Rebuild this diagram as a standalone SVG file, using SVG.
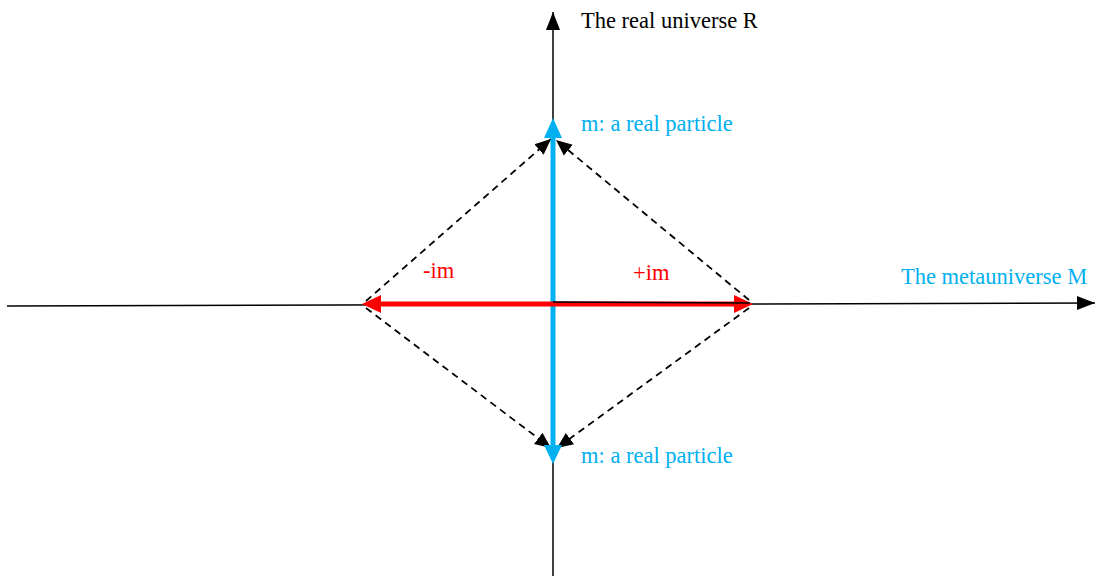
<svg xmlns="http://www.w3.org/2000/svg" width="1096" height="576" viewBox="0 0 1096 576">
<style>
.txt{font-family:"Liberation Serif","Times New Roman",serif;font-size:22.5px}
.axis{stroke:#000;stroke-width:1.5;fill:none}
.dash{stroke:#000;stroke-width:1.8;stroke-dasharray:7,5;fill:none}
.blue{stroke:#00B0F0;stroke-width:5;fill:none}
.red{stroke:#FF0000;stroke-width:5;fill:none}
</style>
<defs>
<marker id="ah" markerUnits="userSpaceOnUse" markerWidth="16" markerHeight="16" viewBox="0 0 16 14" refX="16" refY="7" orient="auto">
<path d="M0,0 L16,7 L0,14 z" fill="#000"/>
</marker>
<marker id="axh" markerUnits="userSpaceOnUse" markerWidth="18" markerHeight="16" viewBox="0 0 18 14" refX="18" refY="7" orient="auto">
<path d="M0,0 L18,7 L0,14 z" fill="#000"/>
</marker>
</defs>
<g id="connectors">
<line class="axis" x1="553" y1="576" x2="553" y2="12" marker-end="url(#axh)"/>
<line class="axis" x1="7" y1="306" x2="1095" y2="303" marker-end="url(#axh)"/>
<line class="dash" x1="366" y1="301" x2="551" y2="139" marker-end="url(#ah)"/>
<line class="dash" x1="749" y1="300" x2="556" y2="140" marker-end="url(#ah)"/>
<line class="dash" x1="366" y1="308" x2="551" y2="448" marker-end="url(#ah)"/>
<line class="dash" x1="749" y1="308" x2="557" y2="448" marker-end="url(#ah)"/>
</g>
<g id="blue-arrow">
<line class="blue" x1="553" y1="448" x2="553" y2="135"/>
<polygon points="553,118 544,138 562,138" fill="#00B0F0"/>
<polygon points="553,464 544,445 562,445" fill="#00B0F0"/>
</g>
<g id="red-arrows">
<line class="red" x1="553" y1="304" x2="377" y2="304"/>
<polygon points="362,304 381,295 381,313" fill="#FF0000"/>
<line class="red" x1="553" y1="304" x2="738" y2="304"/>
<polygon points="753,304 734,295 734,313" fill="#FF0000"/>
<line x1="553" y1="302" x2="750" y2="303" stroke="#000" stroke-width="1.5"/>
</g>
<g id="label-R"><text class="txt" x="581" y="28" fill="#000">The real universe R</text></g>
<g id="label-m-top"><text class="txt" x="581" y="131" fill="#00B0F0">m: a real particle</text></g>
<g id="label-m-bottom"><text class="txt" x="581" y="463" fill="#00B0F0">m: a real particle</text></g>
<g id="label-minus-im"><text class="txt" x="423" y="278" fill="#FF0000">-im</text></g>
<g id="label-plus-im"><text class="txt" x="633" y="280" fill="#FF0000">+im</text></g>
<g id="label-M"><text class="txt" x="901" y="284" fill="#00B0F0">The metauniverse M</text></g>
</svg>
